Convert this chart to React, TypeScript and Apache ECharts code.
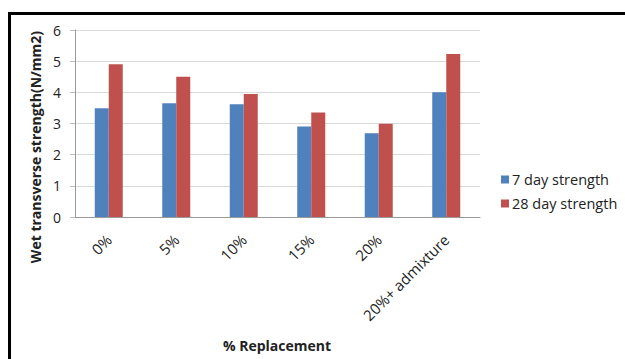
import React, { useEffect, useRef } from "react";
import * as echarts from "echarts";

const categories = ["0%", "5%", "10%", "15%", "20%", "20%+ admixture"];
const day7 = [3.49, 3.65, 3.62, 2.9, 2.69, 4.0];
const day28 = [4.9, 4.5, 3.95, 3.35, 2.99, 5.23];
const seriesNames = ["7 day strength", "28 day strength"];
const yTitle = "Wet transverse strength(N/mm2)";
const xTitle = "% Replacement";

const FONT = "'Open Sans', 'Liberation Sans', sans-serif";

export default function App() {
  const ref = useRef<HTMLDivElement>(null);
  useEffect(() => {
    if (!ref.current) return;
    const chart = echarts.init(ref.current, undefined, { renderer: "svg" });
    chart.setOption({
      animation: false,
      backgroundColor: "#ffffff",
      textStyle: { fontFamily: FONT },
      grid: { left: 75, right: 145, top: 30, bottom: 142, containLabel: false },
      legend: {
        orient: "vertical",
        left: 496,
        top: 167,
        itemWidth: 8,
        itemHeight: 8,
        itemGap: 9,
        icon: "rect",
        textStyle: { fontSize: 14.5, color: "#222", fontFamily: FONT, padding: [0, 0, 0, -2] },
        data: seriesNames,
      },
      xAxis: {
        type: "category",
        data: categories,
        axisLine: { show: true, lineStyle: { color: "#9a9a9a", width: 1 } },
        axisTick: { show: false },
        axisLabel: {
          interval: 0,
          rotate: 45,
          margin: 20,
          fontSize: 15,
          color: "#222",
          fontFamily: FONT,
        },
      },
      yAxis: {
        type: "value",
        min: 0,
        max: 6,
        interval: 1,
        axisLine: { show: true, lineStyle: { color: "#9a9a9a", width: 1 } },
        axisTick: { show: true, length: 5, lineStyle: { color: "#bcbcbc" } },
        splitLine: { show: true, lineStyle: { color: "#d9d9d9", width: 1 } },
        axisLabel: { fontSize: 14, color: "#222", margin: 14, fontFamily: FONT },
      },
      series: [
        {
          name: seriesNames[0],
          type: "bar",
          data: day7,
          barWidth: 14,
          barGap: "0%",
          itemStyle: { color: "#4F81BD" },
        },
        {
          name: seriesNames[1],
          type: "bar",
          data: day28,
          barWidth: 14,
          barGap: "0%",
          itemStyle: { color: "#C0504D" },
        },
      ],
      graphic: [
        {
          type: "rect",
          shape: { x: 9.5, y: 13.5, width: 700, height: 400 },
          style: { fill: "none", stroke: "#000", lineWidth: 3 },
          silent: true,
        },
        {
          type: "text",
          x: 35,
          y: 147,
          rotation: Math.PI / 2,
          style: {
            text: yTitle,
            fontSize: 14,
            fontWeight: "bold",
            fill: "#222",
            fontFamily: FONT,
            align: "center",
            verticalAlign: "middle",
          },
        },
        {
          type: "text",
          x: 277,
          y: 345,
          style: {
            text: xTitle,
            fontSize: 14,
            fontWeight: "bold",
            fill: "#222",
            fontFamily: FONT,
            align: "center",
            verticalAlign: "middle",
          },
        },
      ],
    });
    return () => chart.dispose();
  }, []);
  return (
    <div
      ref={ref}
      style={{ position: "absolute", left: 0, top: 0, width: 625, height: 359 }}
    />
  );
}
